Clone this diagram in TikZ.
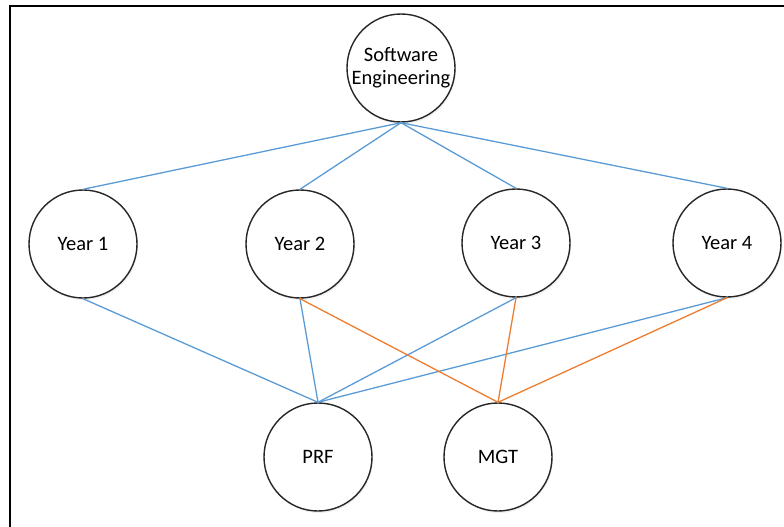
\documentclass[tikz,border=0pt]{standalone}
\usepackage{fontspec}
\setmainfont{Carlito}
\usetikzlibrary{shadows}
\definecolor{linkblue}{HTML}{5B9BD5}
\definecolor{linkorange}{HTML}{ED7D31}
\tikzset{
  topic/.style={circle, draw=black!85, line width=1.4pt, fill=white,
    minimum size=108pt, inner sep=0pt, align=center,
    font=\fontsize{20.5}{23}\selectfont,
    drop shadow={shadow xshift=1pt, shadow yshift=-2pt, opacity=0.12}},
  bluelink/.style={linkblue, line width=1.3pt},
  orangelink/.style={linkorange, line width=1.3pt}
}
\begin{document}
\begin{tikzpicture}[x=1pt, y=-1pt]
\useasboundingbox (0,0) rectangle (784,527);
\draw[line width=2.5pt] (10,527) -- (10,6) -- (784,6);
\node[topic] (se) at (401,68) {Software\\Engineering};
\node[topic] (y1) at (83,244) {Year 1};
\node[topic] (y2) at (300,244) {Year 2};
\node[topic] (y3) at (516,243) {Year 3};
\node[topic] (y4) at (727,243) {Year 4};
\node[topic] (prf) at (318,457) {PRF};
\node[topic] (mgt) at (498,457) {MGT};
\foreach \y in {y1,y2,y3,y4}
  \draw[bluelink] (se.south) -- (\y.north);
\foreach \y in {y1,y2,y3,y4}
  \draw[bluelink] (\y.south) -- (prf.north);
\foreach \y in {y2,y3,y4}
  \draw[orangelink] (\y.south) -- (mgt.north);
\end{tikzpicture}
\end{document}
